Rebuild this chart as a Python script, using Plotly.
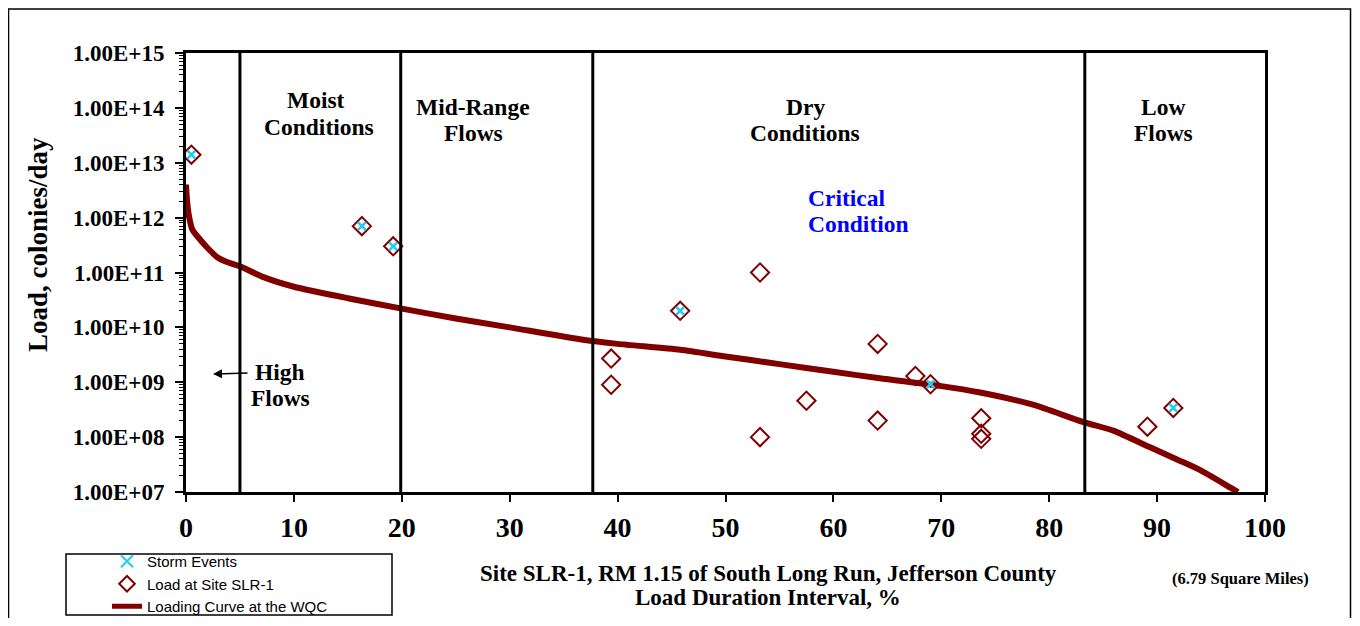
import plotly.graph_objects as go

# ---- data ----
load_x = [0.5, 16.3, 19.2, 39.4, 39.4, 45.8, 53.2, 53.2, 57.5, 64.1, 64.1, 67.6, 69.0, 73.7, 73.7, 73.7, 89.1, 91.5]
load_y = [1.4e13, 7e11, 3e11, 2.7e9, 9e8, 2e10, 1e11, 1e8, 4.6e8, 5e9, 2e8, 1.3e9, 9.2e8, 2.2e8, 1.15e8, 9.3e7, 1.55e8, 3.4e8]

storm_x = [0.5, 16.3, 19.2, 45.8, 69.0, 91.5]
storm_y = [1.4e13, 7e11, 3e11, 2e10, 9.2e8, 3.4e8]

curve_x = [0, 0.1, 0.3, 0.6, 1.3, 2.0, 2.9, 3.8, 5, 7, 10, 15, 20, 25, 30, 36.5, 40, 45.8, 50, 55, 60,
           64.3, 70, 73.6, 78.5, 83.1, 86, 89.3, 92, 94, 96.8, 97.5]
curve_y = [4e12, 2e12, 1e12, 6e11, 4e11, 2.8e11, 1.9e11, 1.55e11, 1.3e11, 8.5e10, 5.5e10, 3.4e10, 2.2e10, 1.45e10,
           1e10, 6.1e9, 5e9, 3.9e9, 2.95e9, 2.14e9, 1.55e9, 1.18e9, 8.5e8, 6.5e8, 3.9e8,
           1.9e8, 1.3e8, 6.6e7, 3.8e7, 2.5e7, 1.2e7, 1e7]

zone_bounds = [5, 19.9, 37.7, 83.3]

y_tickvals = [1e7, 1e8, 1e9, 1e10, 1e11, 1e12, 1e13, 1e14, 1e15]
y_ticktext = ["1.00E+07", "1.00E+08", "1.00E+09", "1.00E+10", "1.00E+11",
              "1.00E+12", "1.00E+13", "1.00E+14", "1.00E+15"]
x_tickvals = [0, 10, 20, 30, 40, 50, 60, 70, 80, 90, 100]

SERIF = "Liberation Serif"
RED = "#800000"

# screen pixel -> plot coordinates helpers (plot area: x 186..1265, y 53..492 on screen)
def px_x(p):
    return (p - 186) / 10.79

def py_paper(p):
    return (492 - p) / 439.0

def px_paper(p):
    return (p - 186) / 1079.0

fig = go.Figure()
fig.add_trace(go.Scatter(x=curve_x, y=curve_y, mode="lines", name="Loading Curve at the WQC",
                         line=dict(color=RED, width=6, shape="spline", smoothing=0.6),
                         legendrank=3))
fig.add_trace(go.Scatter(x=load_x, y=load_y, mode="markers", name="Load at Site SLR-1",
                         marker=dict(symbol="diamond-open", size=14, color=RED,
                                     line=dict(width=2, color=RED)),
                         legendrank=2))
fig.add_trace(go.Scatter(x=storm_x, y=storm_y, mode="markers", name="Storm Events",
                         marker=dict(symbol="x-thin-open", size=8, color="#22CCF0",
                                     line=dict(width=2.5, color="#22CCF0")),
                         legendrank=1))

shapes = []
for b in zone_bounds:
    shapes.append(dict(type="line", xref="x", yref="paper", x0=b, x1=b, y0=0, y1=1,
                       line=dict(color="black", width=3)))
# outer chart border
shapes.append(dict(type="rect", xref="paper", yref="paper", x0=px_paper(8.5), x1=px_paper(1350.5),
                   y0=py_paper(640), y1=py_paper(9), line=dict(color="black", width=1.5)))
# legend box
shapes.append(dict(type="rect", xref="paper", yref="paper", x0=px_paper(66), x1=px_paper(392),
                   y0=py_paper(615), y1=py_paper(554), line=dict(color="black", width=1.5)))

annotations = []

def txt(s, xpix, ypix, size=23.5, color="black", xanchor="center"):
    annotations.append(dict(x=px_x(xpix), y=py_paper(ypix), xref="x", yref="paper",
                            text="<b>%s</b>" % s, showarrow=False, xanchor=xanchor,
                            yanchor="middle",
                            font=dict(family=SERIF, size=size, color=color)))

txt("Moist", 316, 100)
txt("Conditions", 319, 127)
txt("Mid-Range", 473, 107)
txt("Flows", 473, 133)
txt("Dry", 805, 107)
txt("Conditions", 805, 133)
txt("Low", 1163, 107)
txt("Flows", 1163, 133)
txt("Critical", 806, 198, color="#0000FF", xanchor="left")
txt("Condition", 806, 224, color="#0000FF", xanchor="left")
txt("High", 280, 372)
txt("Flows", 280, 398)

annotations.append(dict(x=px_x(213), y=9.15, xref="x", yref="y", ax=px_x(249), ay=9.17,
                        axref="x", ayref="y", text="", showarrow=True,
                        arrowhead=2, arrowsize=1.2, arrowwidth=1.5, arrowcolor="black"))

def ptxt(s, xpix, ypix, size, angle=0):
    annotations.append(dict(x=px_paper(xpix), y=py_paper(ypix), xref="paper", yref="paper",
                            text="<b>%s</b>" % s, showarrow=False, textangle=angle,
                            xanchor="center", yanchor="middle",
                            font=dict(family=SERIF, size=size, color="black")))

ptxt("Site SLR-1, RM 1.15 of South Long Run, Jefferson County", 768, 573, 23)
ptxt("Load Duration Interval, %", 768, 597, 23)
ptxt("(6.79 Square Miles)", 1240, 578, 16.5)
ptxt("Load, colonies/day", 38, 245, 27, angle=-90)

# page body has an 8px margin: figure sized to fit the window without scrollbars
fig.update_layout(
    width=1344, height=610,
    margin=dict(l=178, r=87, t=45, b=126, autoexpand=False),
    paper_bgcolor="white", plot_bgcolor="white",
    showlegend=True,
    legend=dict(x=px_paper(107), y=py_paper(545), xanchor="left", yanchor="top",
                bgcolor="rgba(0,0,0,0)", borderwidth=0,
                font=dict(family="Liberation Sans", size=15, color="black"),
                itemsizing="constant", tracegroupgap=0),
    shapes=shapes, annotations=annotations,
)
fig.update_xaxes(range=[0, 100], tickvals=x_tickvals, showgrid=False, zeroline=False,
                 showline=True, linewidth=3, linecolor="black", mirror=True,
                 ticks="outside", ticklen=7, tickwidth=1.5, tickcolor="black",
                 tickfont=dict(family=SERIF, size=28, color="black", weight="bold"),
                 ticklabelstandoff=1)
fig.update_yaxes(type="log", range=[7, 15], tickvals=y_tickvals, ticktext=y_ticktext,
                 showgrid=False, zeroline=False, showline=True, linewidth=3,
                 linecolor="black", mirror=True,
                 ticks="outside", ticklen=8, tickwidth=1.5, tickcolor="black",
                 minor=dict(ticks="outside", ticklen=4, tickwidth=1, tickcolor="black",
                            dtick="D1", showgrid=False),
                 tickfont=dict(family=SERIF, size=23, color="black", weight="bold"),
                 ticklabelstandoff=6)

fig.write_html("out.html")
